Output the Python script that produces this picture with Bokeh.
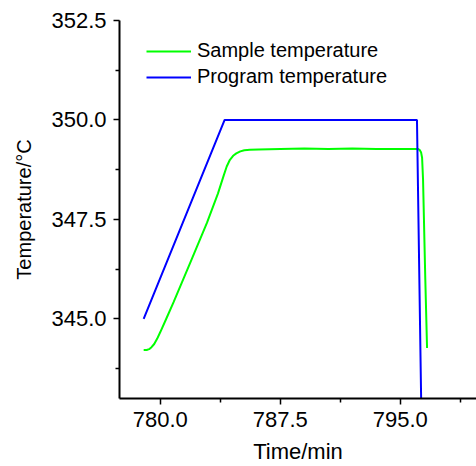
from bokeh.plotting import figure
from bokeh.models import FixedTicker, NumeralTickFormatter, Range1d, Legend, LegendItem
from bokeh.embed import file_html
from bokeh.resources import INLINE

# Program temperature (°C) vs time (min)
prog_time = [778.96, 784.02, 796.04, 796.30]
prog_temp = [345.00, 350.00, 350.00, 343.00]

# Sample temperature (°C) vs time (min)
samp_time = [778.96, 779.15, 779.30, 779.45, 779.62, 779.80, 780.00, 780.40, 780.83, 781.88,
             782.92, 783.60, 783.96, 784.15, 784.35, 784.55, 784.75, 785.00, 785.25, 785.60,
             786.14, 787.5, 789.0, 790.5, 792.0, 793.5, 795.0, 796.10,
             796.20, 796.30, 796.36, 796.42, 796.56, 796.67]
samp_temp = [344.22, 344.22, 344.24, 344.29, 344.37, 344.50, 344.67, 345.03, 345.42, 346.42,
             347.42, 348.15, 348.60, 348.83, 349.00, 349.10, 349.16, 349.21, 349.24, 349.25,
             349.26, 349.27, 349.28, 349.27, 349.28, 349.27, 349.27, 349.27,
             349.25, 349.18, 349.05, 348.50, 346.00, 344.27]

x_major = [780.0, 787.5, 795.0]
x_minor = [783.75, 791.25, 798.75]
y_major = [345.0, 347.5, 350.0, 352.5]
y_minor = [343.75, 346.25, 348.75, 351.25]

series_labels = ["Sample temperature", "Program temperature"]

FONT = "Liberation Sans"

p = figure(width=476, height=466, output_backend="svg", toolbar_location=None,
           x_range=Range1d(777.45, 799.76), y_range=Range1d(343.0, 352.5),
           min_border_left=119, min_border_right=0, min_border_top=20, min_border_bottom=67)
p.outline_line_color = None
p.grid.visible = False
p.background_fill_color = "white"

r_s = p.line(samp_time, samp_temp, line_color="#00ff00", line_width=2)
r_p = p.line(prog_time, prog_temp, line_color="#0000ff", line_width=2)

legend = Legend(items=[LegendItem(label=series_labels[0], renderers=[r_s]),
                       LegendItem(label=series_labels[1], renderers=[r_p])],
                location=(27, 310), border_line_alpha=0, background_fill_alpha=0,
                label_text_font=FONT, label_text_font_size="20px", label_text_color="black",
                glyph_width=45, glyph_height=20, label_height=20, label_standoff=6,
                padding=0, spacing=3, margin=0)
p.add_layout(legend)

for ax, maj, mn in ((p.xaxis[0], x_major, x_minor), (p.yaxis[0], y_major, y_minor)):
    ax.ticker = FixedTicker(ticks=maj, minor_ticks=mn)
    ax.formatter = NumeralTickFormatter(format="0.0")
    ax.axis_line_width = 2
    ax.axis_line_color = "black"
    ax.major_tick_line_width = 1.5
    ax.minor_tick_line_width = 1.5
    ax.major_tick_in = 0
    ax.major_tick_out = 6
    ax.minor_tick_in = 0
    ax.minor_tick_out = 4
    ax.major_label_text_font = FONT
    ax.major_label_text_font_size = "22px"
    ax.major_label_text_color = "black"
    ax.axis_label_text_font = FONT
    ax.axis_label_text_font_style = "normal"
    ax.axis_label_text_color = "black"
    ax.major_label_standoff = 7

p.xaxis.axis_label = "Time/min"
p.yaxis.axis_label = "Temperature/°C"
p.xaxis.axis_label_text_font_size = "22px"
p.yaxis.axis_label_text_font_size = "20px"
p.xaxis.axis_label_standoff = 9
p.yaxis.axis_label_standoff = 13

open("out.html", "w").write(file_html(p, INLINE))
